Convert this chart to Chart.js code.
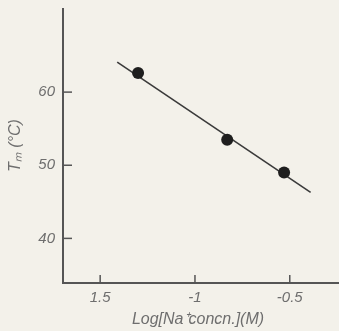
<!DOCTYPE html>
<html><head><meta charset="utf-8">
<script src="https://cdn.jsdelivr.net/npm/chart.js@4"></script>
<style>html,body{margin:0;padding:0;background:#f3f1ea;}#wrap{width:339px;height:331px;position:relative;}</style>
</head><body><div id="wrap"><canvas id="c" width="339" height="331"></canvas></div>
<script>
const logNa = [-1.30, -0.83, -0.53];
const tm = [62.6, 53.5, 49.0];
const fitX = [-1.41, -0.39];
const fitY = [64.1, 46.3];
const xTickValues = [-1.5, -1, -0.5];
const xTickLabels = ['1.5', '-1', '-0.5'];
const yTickValues = [40, 50, 60];
const yTickLabels = ['40', '50', '60'];

const ink = '#3a3a3a';
const axisCol = '#555';
const textCol = '#6e6e6e';
const font = {family: '"Liberation Sans", Arial, sans-serif', size: 15, style: 'italic'};

const innerTicks = {
  id: 'innerTicks',
  afterDraw(chart) {
    const ctx = chart.ctx, xs = chart.scales.x, ys = chart.scales.y, a = chart.chartArea;
    ctx.save();
    ctx.strokeStyle = axisCol; ctx.lineWidth = 2;
    ctx.beginPath();
    ctx.moveTo(a.left, a.top); ctx.lineTo(a.left, a.bottom); ctx.lineTo(chart.width, a.bottom);
    ctx.stroke();
    ctx.lineWidth = 1.5;
    xTickValues.forEach(v => { const p = xs.getPixelForValue(v); ctx.beginPath(); ctx.moveTo(p, a.bottom); ctx.lineTo(p, a.bottom - 8); ctx.stroke(); });
    yTickValues.forEach(v => { const p = ys.getPixelForValue(v); ctx.beginPath(); ctx.moveTo(a.left, p); ctx.lineTo(a.left + 9, p); ctx.stroke(); });
    ctx.restore();
  }
};

function zeroPad(s) { s.paddingTop = 0; s.paddingBottom = 0; s.paddingLeft = 0; s.paddingRight = 0; }

new Chart(document.getElementById('c'), {
  type: 'scatter',
  data: {
    datasets: [
      {data: fitX.map((x, i) => ({x, y: fitY[i]})), showLine: true, borderColor: ink, borderWidth: 1.6, pointRadius: 0, order: 2},
      {data: logNa.map((x, i) => ({x, y: tm[i]})), pointRadius: 6, pointBackgroundColor: '#1e1e1e', pointBorderColor: '#1e1e1e', pointBorderWidth: 0, order: 1}
    ]
  },
  plugins: [innerTicks],
  options: {
    responsive: false, animation: false,
    layout: {padding: {top: 8, right: 0, left: 0, bottom: 0}},
    plugins: {legend: {display: false}, tooltip: {enabled: false}},
    scales: {
      x: {
        type: 'linear', min: -1.696, max: -0.272,
        afterBuildTicks: s => { s.ticks = xTickValues.map(v => ({value: v})); },
        afterFit: s => { s.height = 48; zeroPad(s); },
        border: {display: false},
        grid: {display: false, drawTicks: false},
        ticks: {color: textCol, font, padding: 6, maxRotation: 0, autoSkip: false,
          callback: (v) => { const i = xTickValues.indexOf(v); return i >= 0 ? xTickLabels[i] : ''; }},
        title: {display: true, text: 'Log[Na\u207Aconcn.](M)', color: textCol, font: {family: font.family, size: 16, style: 'italic'}, padding: {top: 0, bottom: 2}}
      },
      y: {
        type: 'linear', min: 33.9, max: 71.5,
        afterBuildTicks: s => { s.ticks = yTickValues.map(v => ({value: v})); },
        afterFit: s => { s.width = 63; zeroPad(s); },
        border: {display: false},
        grid: {display: false, drawTicks: false},
        ticks: {color: textCol, font, padding: 8, autoSkip: false,
          callback: (v) => { const i = yTickValues.indexOf(v); return i >= 0 ? yTickLabels[i] : ''; }},
        title: {display: true, text: 'T\u2098 (\u00B0C)', color: textCol, font: {family: font.family, size: 16, style: 'italic'}, padding: {top: 6, bottom: 4}}
      }
    }
  }
});
</script>
</body></html>
